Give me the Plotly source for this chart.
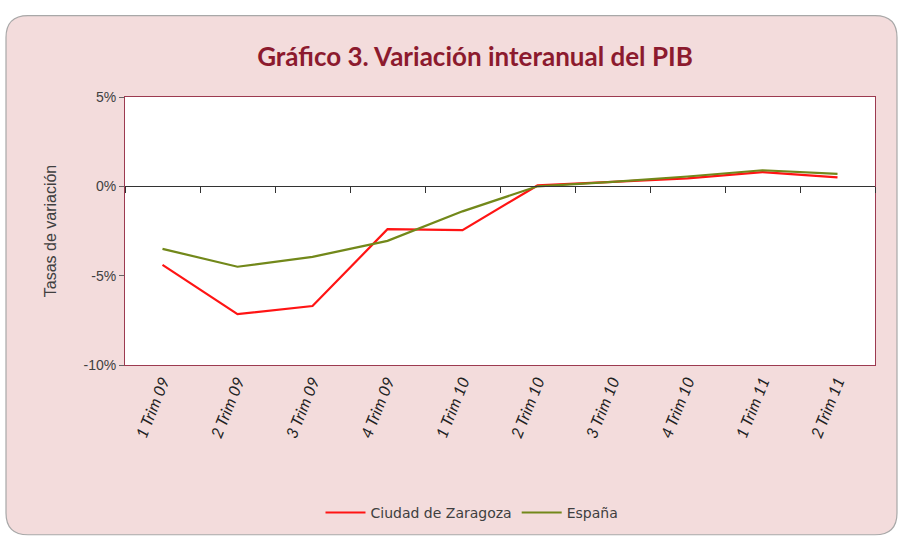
import plotly.graph_objects as go

trimestres = ["1 Trim 09", "2 Trim 09", "3 Trim 09", "4 Trim 09", "1 Trim 10",
              "2 Trim 10", "3 Trim 10", "4 Trim 10", "1 Trim 11", "2 Trim 11"]
zaragoza = [-4.4, -7.15, -6.7, -2.4, -2.45, 0.05, 0.25, 0.45, 0.8, 0.5]
espana = [-3.5, -4.5, -3.95, -3.05, -1.4, 0.0, 0.25, 0.55, 0.9, 0.7]
y_ticks = [-10, -5, 0, 5]
y_tick_labels = ["-10%", "-5%", "0%", "5%"]

# plot area in pixels (for placing the rounded frame behind it)
L, R, T, B = 125, 875, 97, 367


def px(x):
    return (x - L) / (R - L)


def py(y):
    return (B - y) / (B - T)


def rounded_frame(x0, y0, x1, y1, r):
    return (f"M {px(x0 + r)},{py(y0)} L {px(x1 - r)},{py(y0)} "
            f"Q {px(x1)},{py(y0)} {px(x1)},{py(y0 + r)} "
            f"L {px(x1)},{py(y1 - r)} Q {px(x1)},{py(y1)} {px(x1 - r)},{py(y1)} "
            f"L {px(x0 + r)},{py(y1)} Q {px(x0)},{py(y1)} {px(x0)},{py(y1 - r)} "
            f"L {px(x0)},{py(y0 + r)} Q {px(x0)},{py(y0)} {px(x0 + r)},{py(y0)} Z")


fig = go.Figure()
fig.add_trace(go.Scatter(x=trimestres, y=zaragoza, mode="lines", name="Ciudad de Zaragoza",
                         line=dict(color="#ff1414", width=2.2)))
fig.add_trace(go.Scatter(x=trimestres, y=espana, mode="lines", name="España",
                         line=dict(color="#72881a", width=2.2), xaxis="x2"))

# pink rounded frame, then white plot area on top of it
fig.add_shape(type="path", xref="paper", yref="paper", layer="below",
              path=rounded_frame(6, 15, 897, 538, 22),
              fillcolor="#f3dcdc", line=dict(color="#a8a8a8", width=1.2))
fig.add_shape(type="rect", xref="paper", yref="paper", layer="below",
              x0=0, x1=1, y0=0, y1=1, fillcolor="white", line=dict(width=0))

fig.update_layout(
    width=901, height=541,
    margin=dict(l=L, r=901 - R, t=T, b=541 - B),
    paper_bgcolor="white",
    plot_bgcolor="white",
    title=dict(text="<b>Gráfico 3. Variación interanual del PIB</b>",
               x=(475 - L) / (R - L), xref="paper", xanchor="center",
               y=1 - 57 / 541, yanchor="middle",
               font=dict(family="Lato", size=26, color="#8c1a2e")),
    xaxis=dict(type="category", range=[-0.5, 9.5], showgrid=False, zeroline=False,
               showline=True, mirror=True, linecolor="#9c3a50", linewidth=1,
               ticks="", tickangle=-68,
               tickfont=dict(family="Lato", size=16, color="#222222", style="italic")),
    xaxis2=dict(type="category", range=[-0.5, 9.5], overlaying="x", anchor="free",
                position=10 / 15, showgrid=False, showline=True, linecolor="#333333",
                linewidth=1, ticks="outside", tickson="boundaries", ticklen=6,
                tickcolor="#333333", showticklabels=False, matches="x"),
    yaxis=dict(range=[-10, 5], tickvals=y_ticks, ticktext=y_tick_labels,
               showgrid=False, zeroline=False,
               showline=True, mirror=True, linecolor="#9c3a50", linewidth=1,
               ticks="outside", ticklen=5, tickcolor="#666666",
               tickfont=dict(family="Liberation Sans", size=14, color="#404040"),
               title=dict(text="Tasas de variación", standoff=22,
                          font=dict(family="Liberation Sans", size=16, color="#404040"))),
    showlegend=True,
    legend=dict(orientation="h", x=px(472), xanchor="center", y=py(516), yanchor="middle",
                bgcolor="rgba(0,0,0,0)", itemwidth=40,
                font=dict(family="DejaVu Sans", size=14, color="#404040")),
)

fig.write_html("out.html", config={"displayModeBar": False},
               post_script="document.body.style.margin='0';")
